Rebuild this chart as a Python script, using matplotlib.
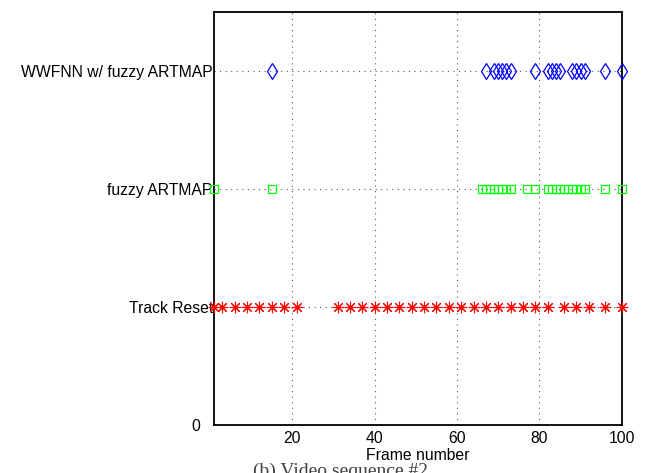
import matplotlib
matplotlib.use("Agg")
import matplotlib.pyplot as plt
from matplotlib.transforms import ScaledTranslation

# Data (frame numbers where each event occurs)
track_reset = [1, 3, 6, 9, 12, 15, 18, 21, 31, 34, 37, 40, 43, 46, 49, 52, 55, 58,
               61, 64, 67, 70, 73, 76, 79, 82, 86, 89, 92, 96, 100]
fuzzy_artmap = [1, 15, 66, 67, 68, 69, 70, 71, 72, 73, 77, 79, 82, 83, 84, 85, 86,
                87, 88, 89, 90, 91, 96, 100]
wwfnn = [15, 67, 69, 70, 71, 72, 73, 79, 82, 83, 84, 85, 88, 89, 90, 91, 96, 100]

ytick_vals = [0, 1, 2, 3]
ytick_labels = ["0", "Track Reset", "fuzzy ARTMAP", "WWFNN w/ fuzzy ARTMAP"]
xtick_vals = [20, 40, 60, 80, 100]

plt.rcParams['font.family'] = ['Liberation Sans', 'DejaVu Sans']

fig = plt.figure(figsize=(6.49, 4.73), dpi=100)
ax = fig.add_axes([0.330, 0.1015, 0.628, 0.8735])

ax.plot(track_reset, [1] * len(track_reset), linestyle='none', marker=(8, 2, 0),
        markersize=8.2, markeredgewidth=0.8, color=(1, 0, 0), clip_on=False, zorder=3)
ax.plot(fuzzy_artmap, [2] * len(fuzzy_artmap), linestyle='none', marker='s',
        markersize=6.2, markeredgewidth=0.9, markerfacecolor='none',
        markeredgecolor=(0, 1, 0), clip_on=False, zorder=3)
ax.plot(wwfnn, [3] * len(wwfnn), linestyle='none', marker='d',
        markersize=7.8, markeredgewidth=0.9, markerfacecolor='none',
        markeredgecolor=(0, 0, 1), clip_on=False, zorder=3)

ax.set_xlim(1, 100)
ax.set_ylim(0, 3.5)
ax.set_xticks(xtick_vals)
ax.set_yticks(ytick_vals)
ax.set_yticklabels(ytick_labels)
ax.tick_params(axis='both', direction='in', length=0, labelsize=11.3, colors='black')
ax.tick_params(axis='y', pad=1)
ax.tick_params(axis='x', pad=4)
ax.grid(True, linestyle=(0, (1, 4)), color='0.35', linewidth=0.8)
ax.set_axisbelow(True)
for sp in ax.spines.values():
    sp.set_linewidth(1.3)
    sp.set_color('black')

# shift the "0" label a bit left as in the reference
lbl0 = ax.get_yticklabels()[0]
lbl0.set_transform(lbl0.get_transform() + ScaledTranslation(-13 / 100, 0, fig.dpi_scale_trans))

ax.set_xlabel("Frame number", fontsize=11.3, labelpad=2)

fig.text(0.525, 1 - 463 / 473, "(b) Video sequence #2", ha='center', va='top',
         fontsize=14, family='Liberation Serif', color='0.25')

fig.savefig("out.png", dpi=100)
